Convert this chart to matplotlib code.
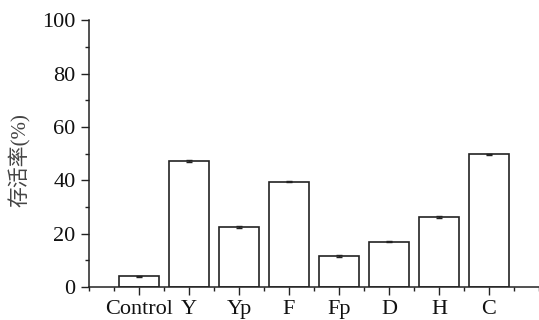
import numpy as np
import matplotlib.pyplot as plt
from matplotlib.ticker import MultipleLocator

categories = ['Control', 'Y', 'Yp', 'F', 'Fp', 'D', 'H', 'C']
survival = [4.0, 47.3, 22.6, 39.5, 11.7, 17.0, 26.2, 49.7]
errors = [0.3, 0.3, 0.3, 0.3, 0.3, 0.3, 0.3, 0.3]
yticks = [0, 20, 40, 60, 80, 100]

plt.rcParams['font.family'] = ['Liberation Serif', 'Noto Sans CJK SC']
plt.rcParams['font.size'] = 16

fig = plt.figure(figsize=(5.39, 3.2), dpi=100)
ax = fig.add_axes([0.165, 0.103, 0.835, 0.834])

x = np.arange(1, len(categories) + 1)
ax.bar(x, survival, width=0.8, color='white', edgecolor='#222222', linewidth=1.2,
       zorder=2)
ax.errorbar(x, survival, yerr=errors, fmt='none', ecolor='#222222', elinewidth=1,
            capsize=2, capthick=1, zorder=3)

ax.set_xlim(0, 9)
ax.set_ylim(0, 100)
ax.set_xticks(x)
ax.set_xticklabels(categories)
ax.xaxis.set_minor_locator(MultipleLocator(0.5))
ax.set_yticks(yticks)
ax.yaxis.set_minor_locator(MultipleLocator(10))
ax.set_ylabel('存活率(%)', fontsize=15, color='#444444', va='center')
ax.yaxis.set_label_coords(-0.153, 0.475)

for side in ('top', 'right'):
    ax.spines[side].set_visible(False)
for side in ('left', 'bottom'):
    ax.spines[side].set_linewidth(1.1)
    ax.spines[side].set_color('#222222')

ax.tick_params(axis='both', which='major', direction='out', length=6, width=1,
               color='#222222', labelcolor='#111111')
ax.tick_params(axis='both', which='minor', direction='out', length=3, width=1,
               color='#222222')
ax.tick_params(axis='x', which='major', pad=3)

fig.savefig('out.png', dpi=100)
